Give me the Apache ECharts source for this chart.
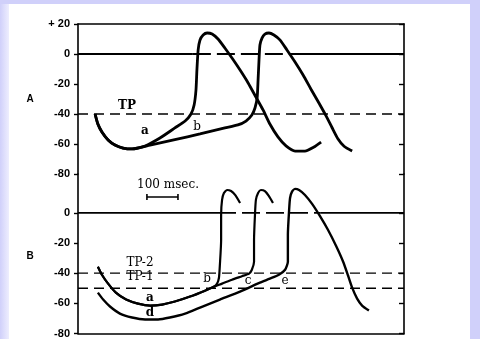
<!DOCTYPE html>
<html>
<head>
<meta charset="utf-8">
<script src="https://cdn.jsdelivr.net/npm/echarts@6/dist/echarts.min.js"></script>
<style>
  html, body { margin: 0; padding: 0; }
  body { width: 480px; height: 339px; background: #d0d0fa; position: relative; overflow: hidden; }
  #paper { position: absolute; left: 8px; top: 4px; width: 462px; height: 335px; background: #fff; }
  #fade { position: absolute; left: 0; top: 4px; width: 9px; height: 335px; background: linear-gradient(to right, #d0d0fa, #eeeefe); }
  #main { position: absolute; left: 0; top: 0; width: 480px; height: 339px; }
</style>
</head>
<body>
<div id="paper"></div>
<div id="fade"></div>
<div id="main"></div>
<script>
// time axis (ms) and voltage ticks (mV)
const timeMax = 1050;
const ticksA = [20, 0, -20, -40, -60, -80];
const ticksB = [0, -20, -40, -60, -80];

// panel A : [ms, mV]
const restA = [[55, -40], [64, -46.7], [77, -52], [97, -57.3], [119, -60.7], [145, -62.7], [174, -63.3]];
const traceAa = [[216, -61.3], [264, -56], [312, -49.3], [345, -44.7], [364, -40], [374, -34], [380, -24], [383, -10.7],
  [387, 2.7], [393, 9.3], [403, 12.7], [416, 14], [432, 13.3], [451, 10], [473, 4], [496, -2.7], [522, -10.7],
  [548, -19.3], [573, -28.7], [596, -37.3], [618, -46.7], [644, -55.3], [670, -61.3], [699, -64.7], [731, -64.7],
  [760, -62], [783, -58.7]];
const traceAb = [[232, -60.8], [312, -57.1], [393, -53.3], [473, -49.3], [515, -47.3], [541, -44.7], [560, -40.7],
  [570, -36], [577, -29.3], [580, -17.3], [583, -4], [586, 6], [593, 10.7], [602, 13.3], [615, 14], [631, 12.7],
  [651, 9.3], [673, 2.7], [699, -5.3], [725, -14], [750, -23.3], [776, -32.7], [799, -41.3], [818, -49],
  [837, -56.5], [857, -61.5], [883, -64.7]];

// panel B : [ms, mV]
const restBa = [[64, -35.7], [77, -41], [97, -46.9], [122, -52.9], [155, -57.5], [193, -60.2], [232, -61.5],
  [271, -60.8], [312, -58.8], [361, -55.5], [409, -51.6], [438, -48.9]];
const traceBb = [[448, -46.9], [454, -43], [457, -34.4], [461, -17.9], [461, -1.3], [464, 8.6], [470, 13.2],
  [480, 15.2], [493, 14.5], [506, 11.9], [522, 6.6]];
const traceBc = [[464, -46.9], [496, -44.3], [528, -42], [551, -40.3], [560, -37.7], [567, -32.4], [567, -17.9],
  [570, -1.3], [573, 8.6], [580, 13.2], [589, 15.2], [602, 14.5], [615, 11.2], [628, 6.6]];
const restBd = [[64, -52.9], [81, -57.5], [103, -62.1], [135, -66.8], [174, -69.4], [216, -70.7], [258, -70.7],
  [296, -69.4], [345, -66.8], [393, -62.8], [457, -57.5], [522, -52.2], [586, -46.3], [618, -43.6], [647, -41],
  [667, -37.7], [676, -32.4]];
const traceBe = [[676, -14.5], [680, 2], [683, 9.9], [689, 13.9], [699, 15.9], [712, 15.2], [731, 11.9], [754, 6],
  [779, -2], [805, -11.2], [831, -21.8], [854, -32.4], [870, -41.7], [883, -49.6], [899, -56.9], [915, -61.5],
  [937, -64.8]];

// thresholds and zero line breaks
const tpA = -40;
const tp2 = -40;
const tp1 = -50;
const zeroBreakA = [370, 715];
const zeroBreakB = [451, 780];
const scaleBar = [222, 322]; // 100 msec
const scaleBarY = 10.5;

let myChart = echarts.init(document.getElementById("main"));

const black = "#000";
const tickFont = "'Liberation Sans', Arial, sans-serif";
const serif = "'DejaVu Serif', 'Liberation Serif', serif";

function xAx(grid, pos) {
  return {
    type: "value", gridIndex: grid, min: 0, max: timeMax, position: pos,
    axisLine: { show: true, onZero: false, lineStyle: { color: black, width: 1.6 } },
    axisTick: { show: false }, axisLabel: { show: false }, splitLine: { show: false },
  };
}

function yAx(grid, pos, max, ticks) {
  const left = pos === "left";
  return {
    type: "value", gridIndex: grid, position: pos, min: -80, max: max, interval: 20,
    axisLine: { show: true, onZero: false, lineStyle: { color: black, width: 1.6 } },
    axisTick: { show: true, inside: !left, length: left ? 4 : 5, customValues: ticks,
      lineStyle: { color: black, width: 1.4 } },
    axisLabel: {
      show: left, customValues: ticks, margin: 8, color: black, fontSize: 11, fontWeight: "bold",
      fontFamily: tickFont,
      formatter: (v) => (v > 0 ? "+ " + v : String(v)),
    },
    splitLine: { show: false },
  };
}

function curve(data, xi, yi, w) {
  return {
    type: "line", xAxisIndex: xi, yAxisIndex: yi, data: data, showSymbol: false, smooth: 0.2,
    lineStyle: { color: black, width: w }, silent: true,
  };
}

function hline(x0, x1, y, xi, yi, w, dash) {
  return {
    type: "line", xAxisIndex: xi, yAxisIndex: yi, data: [[x0, y], [x1, y]], showSymbol: false,
    lineStyle: { color: black, width: w, type: dash || "solid" }, silent: true,
  };
}

function txt(s, x, y, size, font, weight) {
  return {
    type: "text", x: x, y: y, silent: true,
    style: { text: s, fill: black, font: (weight || "normal") + " " + size + "px " + font,
      align: "center", verticalAlign: "middle" },
  };
}

let option = {
  animation: false,
  backgroundColor: "transparent",
  grid: [
    { left: 78, top: 24, width: 326, height: 150 },
    { left: 78, top: 174, width: 326, height: 160 },
  ],
  xAxis: [xAx(0, "top"), xAx(1, "bottom")],
  yAxis: [
    yAx(0, "left", 20, ticksA),
    yAx(0, "right", 20, ticksA),
    yAx(1, "left", 25.8, ticksB),
    yAx(1, "right", 25.8, ticksB),
  ],
  series: [
    // zero lines
    hline(0, zeroBreakA[0], 0, 0, 0, 1.8),
    hline(zeroBreakA[0], zeroBreakA[1], 0, 0, 0, 1.8, [18, 6]),
    hline(zeroBreakA[1], timeMax, 0, 0, 0, 1.8),
    hline(0, zeroBreakB[0], 0, 1, 2, 1.8),
    hline(zeroBreakB[0], zeroBreakB[1], 0, 1, 2, 1.8, [18, 6]),
    hline(zeroBreakB[1], timeMax, 0, 1, 2, 1.8),
    // thresholds
    hline(0, timeMax, tpA, 0, 0, 1.3, [10, 6]),
    hline(0, timeMax, tp2, 1, 2, 1.3, [10, 6]),
    hline(0, timeMax, tp1, 1, 2, 1.3, [10, 6]),
    // panel A
    curve(restA.concat(traceAa), 0, 0, 2.8),
    curve(restA.concat(traceAb), 0, 0, 2.8),
    // panel B
    curve(restBa.concat(traceBb), 1, 2, 2.2),
    curve(restBa.concat(traceBc), 1, 2, 2.2),
    curve(restBd.concat(traceBe), 1, 2, 2.4),
    // 100 msec scale bar
    {
      type: "line", xAxisIndex: 1, yAxisIndex: 2, showSymbol: false, smooth: false, silent: true,
      data: [[scaleBar[0], scaleBarY + 2], [scaleBar[0], scaleBarY - 2], [scaleBar[0], scaleBarY],
        [scaleBar[1], scaleBarY], [scaleBar[1], scaleBarY + 2], [scaleBar[1], scaleBarY - 2]],
      lineStyle: { color: black, width: 1.6 },
    },
  ],
  graphic: [
    txt("A", 30, 99, 10, tickFont, "bold"),
    txt("B", 30, 256, 10, tickFont, "bold"),
    txt("TP", 127, 106, 12, serif, "bold"),
    txt("a", 145, 131, 12, serif, "bold"),
    txt("b", 197, 127, 12, serif),
    txt("100 msec.", 168, 185, 12, serif),
    txt("TP-2", 140, 263, 12, serif),
    txt("TP-1", 140, 277, 12, serif),
    txt("b", 207, 279, 12, serif),
    txt("c", 248, 281, 12, serif),
    txt("e", 285, 281, 12, serif),
    txt("a", 150, 298, 12, serif, "bold"),
    txt("d", 150, 313, 12, serif, "bold"),
  ],
};

myChart.setOption(option);
</script>
</body>
</html>
